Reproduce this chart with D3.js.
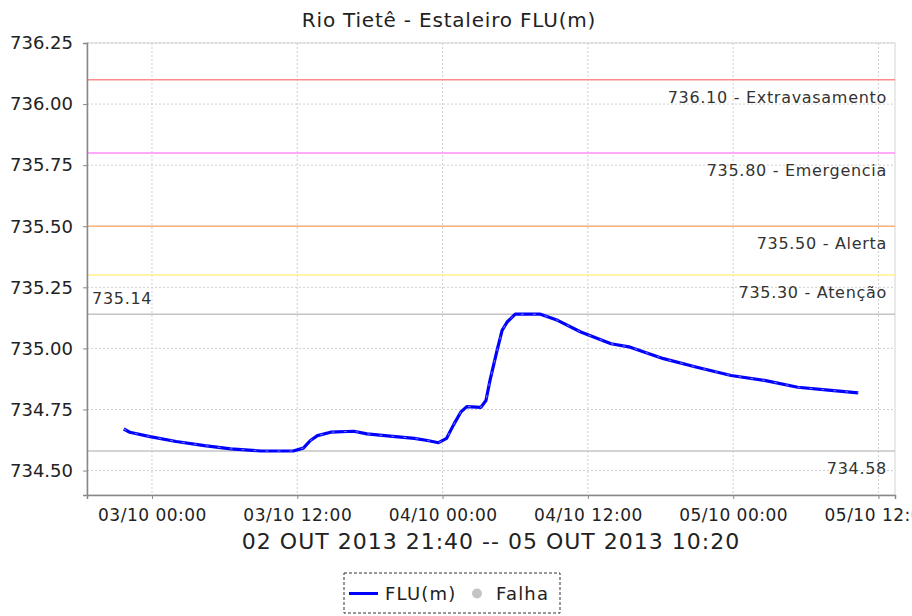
<!DOCTYPE html>
<html>
<head>
<meta charset="utf-8">
<script src="https://cdn.jsdelivr.net/npm/d3@7"></script>
<style>
    body { margin: 0; background: #fff; }
    svg { display: block; font-family: "DejaVu Sans", sans-serif; }
</style>
</head>
<body>
<svg id="chart" width="912" height="616"></svg>
<script>
var times = ["2013-10-02 21:40", "2013-10-02 22:10", "2013-10-02 23:50", "2013-10-03 02:00",
    "2013-10-03 04:20", "2013-10-03 06:30", "2013-10-03 09:00", "2013-10-03 11:40",
    "2013-10-03 12:30", "2013-10-03 13:05", "2013-10-03 13:40", "2013-10-03 14:45",
    "2013-10-03 16:40", "2013-10-03 17:45", "2013-10-03 19:40", "2013-10-03 21:40",
    "2013-10-03 22:45", "2013-10-03 23:40", "2013-10-04 00:20", "2013-10-04 00:55",
    "2013-10-04 01:30", "2013-10-04 02:00", "2013-10-04 03:10", "2013-10-04 03:35",
    "2013-10-04 03:55", "2013-10-04 04:30", "2013-10-04 04:55", "2013-10-04 05:20",
    "2013-10-04 06:00", "2013-10-04 08:05", "2013-10-04 09:30", "2013-10-04 11:25",
    "2013-10-04 13:55", "2013-10-04 15:30", "2013-10-04 18:15", "2013-10-04 21:00",
    "2013-10-04 23:50", "2013-10-05 02:35", "2013-10-05 05:20", "2013-10-05 08:05",
    "2013-10-05 10:20"];
var flu = [734.67, 734.657, 734.639, 734.619,
    734.602, 734.589, 734.58, 734.58,
    734.592, 734.623, 734.643, 734.657,
    734.661, 734.65, 734.641, 734.632,
    734.623, 734.614, 734.632, 734.688,
    734.739, 734.762, 734.759, 734.787,
    734.869, 734.992, 735.074, 735.108,
    735.14, 735.14, 735.115, 735.067,
    735.019, 735.005, 734.958, 734.923,
    734.889, 734.869, 734.841, 734.828,
    734.818];
var levels = [736.10, 735.80, 735.50, 735.30];
var levelNames = ["Extravasamento", "Emergencia", "Alerta", "Atenção"];
var levelColors = ["#ff8c8c", "#ff8cff", "#ffb078", "#fff08a"];
var yTicks = [734.50, 734.75, 735.00, 735.25, 735.50, 735.75, 736.00, 736.25];
var yDomain = [734.40, 736.25];
var title = "Rio Tietê - Estaleiro FLU(m)";
var subtitle = "02 OUT 2013 21:40 -- 05 OUT 2013 10:20";
var legendNames = ["FLU(m)", "Falha"];

(function() {
    'use strict';
    var margin = {top: 43, right: 17, bottom: 121, left: 87};
    var width = 912 - margin.left - margin.right;
    var height = 616 - margin.top - margin.bottom;
    var parse = d3.timeParse("%Y-%m-%d %H:%M");

    var data = times.map(function(t, i) {
        return {t: parse(t), v: flu[i]};
    });

    // 5% de margem em cada lado, como no grafico original
    var ext = d3.extent(data, function(d) { return d.t; });
    var pad = (ext[1] - ext[0]) * 0.05;
    var x = d3.scaleTime()
        .domain([new Date(+ext[0] - pad), new Date(+ext[1] + pad)])
        .range([0, width]);
    var y = d3.scaleLinear().domain(yDomain).range([height, 0]);

    var svg = d3.select("#chart");

    svg.append("text")
        .attr("x", 449).attr("y", 27)
        .attr("text-anchor", "middle")
        .style("font-size", "20px").style("letter-spacing", "0.8px")
        .style("fill", "#222")
        .text(title);

    var g = svg.append("g")
        .attr("transform", "translate(" + margin.left + "," + margin.top + ")");

    g.append("rect")
        .attr("width", width).attr("height", height)
        .attr("fill", "#fff").attr("stroke", "#d4d4d4");

    var xTicks = d3.timeHour.every(12).range(x.domain()[0], x.domain()[1]);

    g.append("g").selectAll("line").data(xTicks).join("line")
        .attr("x1", function(d) { return x(d); }).attr("x2", function(d) { return x(d); })
        .attr("y1", 0).attr("y2", height)
        .attr("stroke", "#d0d0d0").attr("stroke-dasharray", "2,2");
    g.append("g").selectAll("line").data(yTicks).join("line")
        .attr("x1", 0).attr("x2", width)
        .attr("y1", function(d) { return y(d); }).attr("y2", function(d) { return y(d); })
        .attr("stroke", "#d0d0d0").attr("stroke-dasharray", "2,2");

    // niveis de alerta
    var lv = g.append("g").selectAll("g").data(levels).join("g");
    lv.append("line")
        .attr("x1", 0).attr("x2", width)
        .attr("y1", function(d) { return y(d); }).attr("y2", function(d) { return y(d); })
        .attr("stroke", function(d, i) { return levelColors[i]; })
        .attr("stroke-width", 1.5);
    lv.append("text")
        .attr("x", width - 8).attr("y", function(d) { return y(d) + 23; })
        .attr("text-anchor", "end")
        .style("font-size", "16px").style("letter-spacing", "0.7px")
        .style("fill", "#333")
        .text(function(d, i) { return d3.format(".2f")(d) + " - " + levelNames[i]; });

    var vmax = d3.max(flu), vmin = d3.min(flu);
    g.append("line")
        .attr("x1", 0).attr("x2", width).attr("y1", y(vmax)).attr("y2", y(vmax))
        .attr("stroke", "#c4c4c4").attr("stroke-width", 1.5);
    g.append("text")
        .attr("x", 5).attr("y", y(vmax) - 10.5)
        .style("font-size", "16px").style("letter-spacing", "0.7px").style("fill", "#333")
        .text(d3.format(".2f")(vmax));
    g.append("line")
        .attr("x1", 0).attr("x2", width).attr("y1", y(vmin)).attr("y2", y(vmin))
        .attr("stroke", "#c4c4c4").attr("stroke-width", 1.5);
    g.append("text")
        .attr("x", width - 8).attr("y", y(vmin) + 23)
        .attr("text-anchor", "end")
        .style("font-size", "16px").style("letter-spacing", "0.7px").style("fill", "#333")
        .text(d3.format(".2f")(vmin));

    var line = d3.line()
        .x(function(d) { return x(d.t); })
        .y(function(d) { return y(d.v); });
    g.append("path").datum(data)
        .attr("d", line)
        .attr("fill", "none").attr("stroke", "#0000ff")
        .attr("stroke-width", 3.2).attr("stroke-linejoin", "round");
    g.append("path").datum(data)
        .attr("d", line)
        .attr("fill", "none").attr("stroke", "#fff").attr("stroke-opacity", 0.6)
        .attr("stroke-width", 0.8).attr("stroke-dasharray", "3,9");

    var yAxis = g.append("g")
        .call(d3.axisLeft(y).tickValues(yTicks).tickFormat(d3.format(".2f")).tickSize(4).tickPadding(10));
    yAxis.select(".domain").attr("stroke", "#888").attr("stroke-width", 1.5);
    yAxis.selectAll(".tick line").attr("stroke", "#888");
    yAxis.selectAll("text")
        .style("font-size", "18px").style("fill", "#222")
        .style("font-family", "DejaVu Sans, sans-serif");

    var xAxis = g.append("g")
        .attr("transform", "translate(0," + height + ")")
        .call(d3.axisBottom(x).tickValues(xTicks).tickFormat(d3.timeFormat("%d/%m %H:%M")).tickSize(4));
    xAxis.select(".domain").attr("stroke", "#888").attr("stroke-width", 1.5);
    xAxis.selectAll(".tick line").attr("stroke", "#888");
    xAxis.selectAll("text")
        .attr("y", 26).attr("dy", null)
        .style("font-size", "17px").style("letter-spacing", "0.5px").style("fill", "#222")
        .style("font-family", "DejaVu Sans, sans-serif");

    g.append("text")
        .attr("x", width / 2).attr("y", 549 - margin.top)
        .attr("text-anchor", "middle")
        .style("font-size", "22px").style("letter-spacing", "1px").style("fill", "#222")
        .text(subtitle);

    // legenda
    var lg = svg.append("g").attr("transform", "translate(344,573)");
    lg.append("rect")
        .attr("width", 216).attr("height", 40)
        .attr("fill", "#fff").attr("stroke", "#333").attr("stroke-dasharray", "3,2");
    lg.append("line")
        .attr("x1", 5).attr("x2", 34).attr("y1", 20.5).attr("y2", 20.5)
        .attr("stroke", "#0000ff").attr("stroke-width", 3);
    lg.append("text")
        .attr("x", 41).attr("y", 27)
        .style("font-size", "18px").style("letter-spacing", "1.2px").style("fill", "#222")
        .text(legendNames[0]);
    lg.append("circle")
        .attr("cx", 133).attr("cy", 20.5).attr("r", 5)
        .attr("fill", "#c4c4c4");
    lg.append("text")
        .attr("x", 152).attr("y", 27)
        .style("font-size", "18px").style("letter-spacing", "1.2px").style("fill", "#222")
        .text(legendNames[1]);
})();
</script>
</body>
</html>
